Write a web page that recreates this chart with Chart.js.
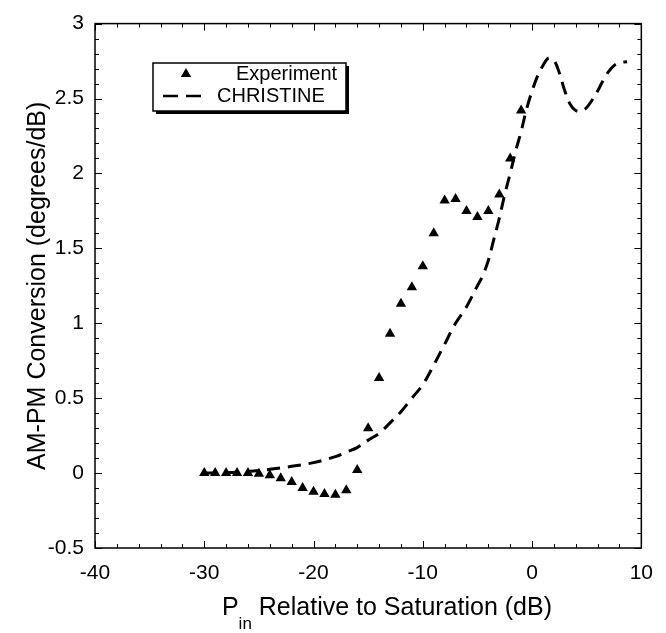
<!DOCTYPE html>
<html>
<head>
<meta charset="utf-8">
<script src="https://cdn.jsdelivr.net/npm/chart.js@4/dist/chart.umd.min.js"></script>
<style>
  html, body { margin: 0; padding: 0; background: #fff; }
  #wrap { width: 666px; height: 633px; }
</style>
</head>
<body>
<div id="wrap"><canvas id="c" width="666" height="633"></canvas></div>
<script>
// ---- data ----
const expX = [-30,-29,-28,-27,-26,-25,-24,-23,-22,-21,-20,-19,-18,-17,-16,-15,-14,-13,-12,-11,-10,-9,-8,-7,-6,-5,-4,-3,-2,-1];
const expY = [0.0,0.0,0.0,0.0,0.0,-0.005,-0.015,-0.035,-0.06,-0.10,-0.125,-0.14,-0.145,-0.115,0.02,0.30,0.635,0.93,1.13,1.24,1.38,1.60,1.82,1.83,1.75,1.71,1.75,1.86,2.10,2.42];

const simX = [-30,-28,-26,-24,-22,-20,-18,-17,-16,-15,-14,-13,-12,-11,-10,-9,-8,-7,-6,-5,-4.5,-4,-3.5,-3,-2.5,-2,-1.5,-1,-0.5,0,0.5,1,1.5,2,2.5,3,3.5,4,4.5,5,5.5,6,6.5,7,7.5,8,8.7];
const simY = [0.0,0.003,0.01,0.025,0.045,0.07,0.11,0.14,0.17,0.22,0.265,0.335,0.41,0.50,0.59,0.72,0.86,1.0,1.11,1.25,1.32,1.42,1.56,1.70,1.86,2.00,2.15,2.28,2.43,2.55,2.65,2.72,2.77,2.755,2.67,2.55,2.46,2.42,2.415,2.44,2.49,2.55,2.62,2.68,2.72,2.74,2.745];

const seriesNames = ["Experiment", "CHRISTINE"];
const xTickLabels = ["-40","-30","-20","-10","0","10"];
const yTickLabels = ["-0.5","0","0.5","1","1.5","2","2.5","3"];
const xTitleMain = "P";
const xTitleSub = "in";
const xTitleRest = " Relative to Saturation (dB)";
const yTitle = "AM-PM Conversion (degrees/dB)";

const FONT = "'Liberation Sans', Arial, Helvetica, sans-serif";

const toPts = (xs, ys) => xs.map((x, i) => ({ x: x, y: ys[i] }));

const framePlugin = {
  id: 'frameTicks',
  afterDraw(chart) {
    const ctx = chart.ctx;
    const a = chart.chartArea;
    const xs = chart.scales.x, ys = chart.scales.y;
    ctx.save();
    ctx.strokeStyle = '#000';
    ctx.lineWidth = 1;
    // inward ticks
    ctx.beginPath();
    for (let v = -40; v <= 10.001; v += 2) {
      const px = Math.round(xs.getPixelForValue(v)) + 0.5;
      const len = (Math.round(v) % 10 === 0) ? 7 : 4;
      ctx.moveTo(px, a.bottom); ctx.lineTo(px, a.bottom - len);
      ctx.moveTo(px, a.top); ctx.lineTo(px, a.top + len);
    }
    for (let k = -5; k <= 30; k++) {
      const v = k / 10;
      const py = Math.round(ys.getPixelForValue(v)) + 0.5;
      const len = (k % 5 === 0) ? 7 : 4;
      ctx.moveTo(a.left, py); ctx.lineTo(a.left + len, py);
      ctx.moveTo(a.right, py); ctx.lineTo(a.right - len, py);
    }
    ctx.stroke();
    // frame
    ctx.lineWidth = 1.5;
    ctx.strokeRect(a.left, a.top, a.right - a.left, a.bottom - a.top);

    // x title with subscript
    ctx.fillStyle = '#000';
    ctx.textBaseline = 'alphabetic';
    ctx.textAlign = 'left';
    const big = "25px " + FONT, small = "17px " + FONT;
    ctx.font = big;
    const wP = ctx.measureText(xTitleMain).width;
    const wR = ctx.measureText(xTitleRest).width;
    ctx.font = small;
    const wS = ctx.measureText(xTitleSub).width;
    const total = wP + wS + wR;
    let x0 = 552 - total;
    const base = 615;
    ctx.font = big; ctx.fillText(xTitleMain, x0, base);
    ctx.font = small; ctx.fillText(xTitleSub, x0 + wP, base + 14);
    ctx.font = big; ctx.fillText(xTitleRest, x0 + wP + wS, base);

    // legend box
    const L = 153, T = 63, W = 193, H = 48;
    ctx.fillStyle = '#000';
    ctx.fillRect(L + 3, T + 3, W, H);
    ctx.fillStyle = '#fff';
    ctx.fillRect(L, T, W, H);
    ctx.lineWidth = 1.5;
    ctx.strokeStyle = '#000';
    ctx.strokeRect(L, T, W, H);
    // marker
    ctx.fillStyle = '#000';
    const mx = 186, my = 74, r = 6;
    ctx.beginPath();
    ctx.moveTo(mx, my - r);
    ctx.lineTo(mx + r * 0.866, my + r * 0.5);
    ctx.lineTo(mx - r * 0.866, my + r * 0.5);
    ctx.closePath(); ctx.fill();
    // dash sample
    ctx.lineWidth = 2.5;
    ctx.setLineDash([15, 8]);
    ctx.beginPath(); ctx.moveTo(163, 96); ctx.lineTo(208, 96); ctx.stroke();
    ctx.setLineDash([]);
    ctx.font = "20px " + FONT;
    ctx.textBaseline = 'middle';
    ctx.fillText(seriesNames[0], 236, 74);
    ctx.fillText(seriesNames[1], 217, 96);
    ctx.restore();
  }
};

new Chart(document.getElementById('c'), {
  type: 'scatter',
  data: {
    datasets: [
      {
        label: seriesNames[0],
        data: toPts(expX, expY),
        pointStyle: 'triangle',
        pointRadius: 6,
        pointHoverRadius: 6,
        backgroundColor: '#000',
        borderColor: '#000',
        borderWidth: 0,
        showLine: false
      },
      {
        label: seriesNames[1],
        data: toPts(simX, simY),
        showLine: true,
        pointRadius: 0,
        borderColor: '#000',
        borderWidth: 3,
        borderDash: [13, 8],
        tension: 0.35,
        fill: false
      }
    ]
  },
  options: {
    responsive: false,
    animation: false,
    devicePixelRatio: 1,
    layout: { padding: { left: 0, right: 23, top: 15, bottom: 0 } },
    plugins: { legend: { display: false }, tooltip: { enabled: false } },
    scales: {
      x: {
        type: 'linear', min: -40, max: 10,
        afterFit: s => { s.height = 85; },
        afterBuildTicks: s => { s.ticks = xTickLabels.map(t => ({ value: Number(t) })); },
        grid: { display: false, drawTicks: false },
        border: { display: false },
        ticks: {
          padding: 13, color: '#000', maxRotation: 0,
          font: { family: FONT, size: 21 },
          callback: v => String(v)
        }
      },
      y: {
        type: 'linear', min: -0.5, max: 3,
        afterFit: s => { s.width = 95; },
        afterBuildTicks: s => { s.ticks = yTickLabels.map(t => ({ value: Number(t) })); },
        grid: { display: false, drawTicks: false },
        border: { display: false },
        ticks: {
          padding: 11, color: '#000',
          font: { family: FONT, size: 21 },
          callback: v => String(Math.round(v * 10) / 10)
        },
        title: {
          display: true, text: yTitle, color: '#000',
          font: { family: FONT, size: 25 },
          padding: { top: 23, bottom: 0 }
        }
      }
    }
  },
  plugins: [framePlugin]
});
</script>
</body>
</html>
